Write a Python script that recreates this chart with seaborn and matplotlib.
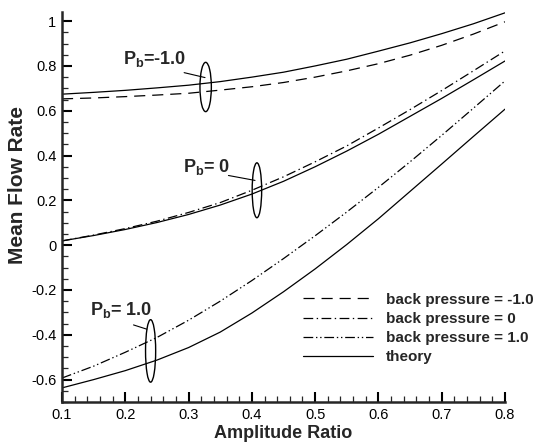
import numpy as np
import pandas as pd
import matplotlib
matplotlib.use("Agg")
import matplotlib.pyplot as plt
from matplotlib.patches import Ellipse
from matplotlib.ticker import MultipleLocator, FormatStrFormatter
import seaborn as sns

# amplitude ratio samples
amp = [0.10, 0.15, 0.20, 0.25, 0.30, 0.35, 0.40, 0.45,
       0.50, 0.55, 0.60, 0.65, 0.70, 0.75, 0.80]

# mean flow rate
bp_m1 = [0.653, 0.657, 0.663, 0.670, 0.678, 0.692, 0.707, 0.726,
         0.750, 0.778, 0.810, 0.848, 0.892, 0.942, 0.997]
bp_0 = [0.019, 0.045, 0.074, 0.107, 0.146, 0.190, 0.245, 0.305,
        0.372, 0.443, 0.523, 0.605, 0.690, 0.778, 0.867]
bp_p1 = [-0.593, -0.540, -0.478, -0.412, -0.335, -0.250, -0.158, -0.060,
         0.042, 0.148, 0.258, 0.372, 0.490, 0.611, 0.733]
th_m1 = [0.674, 0.682, 0.691, 0.702, 0.714, 0.730, 0.750, 0.772,
         0.800, 0.830, 0.866, 0.903, 0.944, 0.988, 1.037]
th_0 = [0.019, 0.043, 0.070, 0.101, 0.137, 0.179, 0.228, 0.285,
        0.350, 0.420, 0.495, 0.575, 0.655, 0.738, 0.822]
th_p1 = [-0.637, -0.600, -0.560, -0.513, -0.457, -0.388, -0.303, -0.208,
         -0.106, 0.003, 0.118, 0.240, 0.362, 0.485, 0.607]

legend_labels = ["back pressure = -1.0", "back pressure = 0",
                 "back pressure = 1.0", "theory"]
pb_labels = ["P$_\\mathbf{b}$=-1.0", "P$_\\mathbf{b}$= 0", "P$_\\mathbf{b}$= 1.0"]

sns.set_style("ticks")
plt.rcParams["font.family"] = ["Liberation Sans", "DejaVu Sans"]
plt.rcParams["mathtext.fontset"] = "custom"
plt.rcParams["mathtext.rm"] = "Liberation Sans:bold"
plt.rcParams["mathtext.bf"] = "Liberation Sans:bold"
plt.rcParams["lines.scale_dashes"] = False

fig = plt.figure(figsize=(5.35, 4.42), dpi=100)
ax = fig.add_axes([0.1159, 0.0905, 0.828, 0.882])

styles = [(0, (8, 5)), (0, (7, 2.5, 1, 2.5)), (0, (7, 2, 1, 2, 1, 2)), "-"]
series = [bp_m1, bp_0, bp_p1, th_m1]
for vals, lab, ls in zip(series, legend_labels, styles):
    sns.lineplot(x=amp, y=vals, ax=ax, color="black", linewidth=0.9,
                 linestyle=ls, label=lab, legend=False)
for vals in [th_0, th_p1]:
    sns.lineplot(x=amp, y=vals, ax=ax, color="black", linewidth=0.9,
                 linestyle="-", legend=False)

# ellipses + labels marking each pair of curves
marks = [
    dict(cx=0.327, cy=0.706, w=0.018, h=0.22, tx=0.196, ty=0.831,
         l0=(0.293, 0.770), l1=(0.326, 0.748)),
    dict(cx=0.408, cy=0.245, w=0.015, h=0.245, tx=0.291, ty=0.348,
         l0=(0.363, 0.311), l1=(0.405, 0.289)),
    dict(cx=0.240, cy=-0.472, w=0.016, h=0.279, tx=0.144, ty=-0.289,
         l0=(0.213, -0.356), l1=(0.234, -0.375)),
]
for m, txt in zip(marks, pb_labels):
    ax.add_patch(Ellipse((m["cx"], m["cy"]), m["w"], m["h"], fill=False,
                         edgecolor="black", linewidth=1.0))
    ax.plot([m["l0"][0], m["l1"][0]], [m["l0"][1], m["l1"][1]],
            color="black", linewidth=0.8)
    ax.text(m["tx"], m["ty"], txt, fontsize=13, fontweight="bold",
            ha="left", va="center")

ax.set_xlim(0.1, 0.8)
ax.set_ylim(-0.7, 1.04)
ax.xaxis.set_major_locator(MultipleLocator(0.1))
ax.xaxis.set_minor_locator(MultipleLocator(0.02))
ax.yaxis.set_major_locator(MultipleLocator(0.2))
ax.yaxis.set_minor_locator(MultipleLocator(0.05))
ax.yaxis.set_major_formatter(FormatStrFormatter("%g"))
ax.xaxis.set_major_formatter(FormatStrFormatter("%g"))

sns.despine(ax=ax)
for side in ["left", "bottom"]:
    ax.spines[side].set_linewidth(1.8)
ax.tick_params(which="major", direction="in", length=7, width=1.5,
               labelsize=10.5, pad=4, colors="black")
ax.tick_params(which="minor", direction="in", length=4, width=0.9)

ax.set_xlabel("Amplitude Ratio", fontsize=13, fontweight="bold")
ax.set_ylabel("Mean Flow Rate", fontsize=15, fontweight="bold")
ax.xaxis.set_label_coords(0.5, -0.058)
ax.yaxis.set_label_coords(-0.079, 0.556)

ax.legend(loc="upper left", bbox_to_anchor=(0.544, 0.28), frameon=False,
          prop={"size": 11, "weight": "bold"}, handlelength=4.6,
          handletextpad=0.85, labelspacing=0.33, borderpad=0, borderaxespad=0)

fig.savefig("out.png", dpi=100, facecolor="white")
